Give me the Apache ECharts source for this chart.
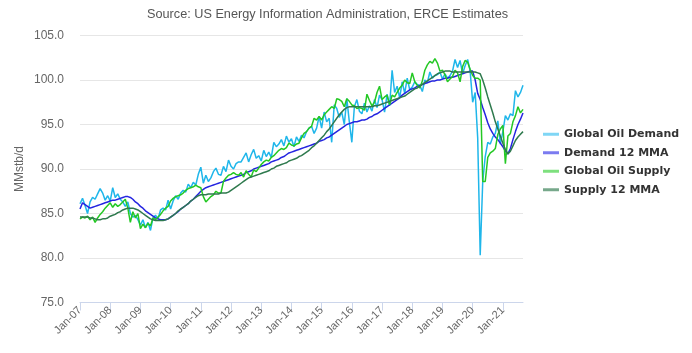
<!DOCTYPE html>
<html>
<head>
<meta charset="utf-8">
<script src="https://cdn.jsdelivr.net/npm/echarts@6/dist/echarts.min.js"></script>
<style>
    html, body { margin: 0; padding: 0; background: #fff; }
    #oilChart { width: 692px; height: 353px; }
</style>
</head>
<body>
<div id="oilChart"></div>
<script>
    // month labels, Jan-07 .. Sep-21
    var monthNames = ['Jan', 'Feb', 'Mar', 'Apr', 'May', 'Jun', 'Jul', 'Aug', 'Sep', 'Oct', 'Nov', 'Dec'];
    var yearLabels = ['07', '08', '09', '10', '11', '12', '13', '14', '15', '16', '17', '18', '19', '20', '21'];
    var lastMonthCount = 9; // data runs to Sep-21

    var yTicks = [75, 80, 85, 90, 95, 100, 105];

    // Global Oil Demand, MMstb/d, one row per year
    var demand = [
        86.1, 86.7, 85.9, 85.0, 86.3, 86.8, 86.6, 87.2, 87.8, 87.3, 86.5, 87.0,
        86.4, 87.9, 86.8, 87.2, 86.6, 86.3, 85.8, 86.3, 85.0, 84.6, 84.8, 84.3,
        83.7, 84.3, 83.4, 84.0, 83.1, 84.5, 84.8, 84.4, 85.4, 85.6, 85.4, 86.5,
        85.5, 86.4, 87.0, 86.6, 87.3, 87.6, 87.4, 88.3, 87.9, 88.5, 88.2, 89.4,
        90.2, 88.4, 89.3, 88.6, 89.0, 89.7, 90.1, 89.4, 89.3, 90.3, 89.7, 91.0,
        90.3, 90.0, 90.6, 90.8, 90.8, 91.3, 91.8, 90.8, 91.6, 92.2, 91.2, 91.5,
        90.9, 92.1, 91.4, 91.9, 91.3, 93.0, 92.5, 92.8, 93.3, 92.6, 93.7, 93.0,
        93.4, 92.5, 93.6, 93.1, 93.8, 93.5, 94.2, 94.6, 94.8, 94.0, 94.6, 95.9,
        94.6, 96.4, 95.3, 95.7, 93.0, 97.2, 96.8, 95.8, 96.4, 95.0, 97.9, 95.3,
        93.0, 97.0, 97.8, 96.5, 96.2, 97.4, 96.4, 97.1, 96.5, 97.8, 96.9, 98.3,
        97.8, 96.4, 98.4, 97.1, 101.1, 98.6, 99.3, 98.0, 99.8, 98.5, 100.2, 98.9,
        99.2, 99.8, 99.5, 99.4, 98.7, 100.0, 99.7, 100.9, 100.2, 100.5, 100.6, 100.9,
        100.1, 100.7, 100.2, 100.5, 101.0, 102.3, 101.4, 102.2, 100.7, 101.6, 102.3, 101.0,
        97.5, 98.6, 93.5, 80.3, 88.6, 91.4, 93.0, 92.8, 93.6, 94.0, 95.4, 92.8,
        94.2, 96.0, 95.5, 96.2, 96.0, 98.8, 98.1, 98.6, 99.4
    ];

    // Demand 12 MMA
    var demandMma = [
        85.5, 86.2, 86.0, 85.8, 85.6, 85.7, 85.8, 85.9, 86.0, 86.1, 86.2, 86.3,
        86.4, 86.5, 86.5, 86.6, 86.7, 86.8, 86.9, 86.9, 86.8, 86.6, 86.3, 86.1,
        85.8, 85.6, 85.3, 85.1, 84.9, 84.7, 84.5, 84.4, 84.3, 84.3, 84.3, 84.4,
        84.6, 84.8, 85.0, 85.2, 85.5, 85.7, 85.9, 86.1, 86.4, 86.6, 86.9, 87.2,
        87.5, 87.7, 87.9, 88.0, 88.1, 88.2, 88.3, 88.4, 88.5, 88.6, 88.7, 88.8,
        88.9, 89.0, 89.1, 89.2, 89.3, 89.4, 89.6, 89.7, 89.8, 90.0, 90.1, 90.2,
        90.3, 90.4, 90.5, 90.6, 90.8, 90.9, 91.0, 91.1, 91.3, 91.4, 91.6, 91.8,
        91.9, 92.0, 92.1, 92.2, 92.3, 92.4, 92.5, 92.6, 92.7, 92.8, 92.9, 93.1,
        93.2, 93.3, 93.5, 93.6, 93.8, 94.0, 94.2, 94.4, 94.6, 94.8, 95.0, 95.1,
        95.2, 95.3, 95.3, 95.4, 95.5, 95.5, 95.6, 95.8, 95.9, 96.1, 96.2, 96.4,
        96.6, 96.8, 97.0, 97.2, 97.4, 97.6, 97.8, 98.0, 98.3, 98.5, 98.7, 98.9,
        99.0, 99.1, 99.3, 99.4, 99.5, 99.6, 99.7, 99.8, 99.9, 99.9, 100.0, 100.0,
        100.1, 100.2, 100.2, 100.3, 100.3, 100.4, 100.5, 100.6, 100.7, 100.8, 100.9, 101.0,
        101.0, 100.0, 98.5, 97.8, 96.9, 96.1, 95.2, 94.5, 94.0, 93.6, 93.3, 92.9,
        92.5, 92.0, 91.7, 92.3, 93.3, 94.2, 95.0, 95.6, 96.3
    ];

    // Global Oil Supply
    var supply = [
        84.4, 84.6, 84.5, 84.7, 84.3, 84.6, 84.0, 84.5, 84.9, 85.2, 85.6, 85.9,
        86.2, 85.7, 86.1, 85.8, 86.0, 86.3, 86.6, 85.6, 84.0, 85.2, 84.5, 85.0,
        83.3, 83.8, 83.4, 83.9, 83.6, 84.5, 84.3, 84.6, 84.9, 85.3, 85.6, 85.8,
        86.4, 86.7, 86.9, 87.0, 87.1, 87.3, 87.6, 87.8, 87.9, 88.0, 88.2, 88.0,
        87.9, 86.9, 86.3, 86.6, 86.9, 87.1, 87.5, 87.3, 87.3, 88.6, 89.0, 89.3,
        89.4, 89.6, 89.4, 89.3, 89.6, 89.1, 89.8, 89.4, 89.1, 89.9, 89.7, 90.1,
        90.5, 90.8, 91.0, 90.9, 91.3, 91.5, 91.8, 92.1, 92.3, 92.2, 92.4, 92.9,
        92.7, 92.6, 92.8, 92.9, 93.5, 94.0, 94.2, 94.6, 94.8, 95.7, 95.5, 95.9,
        95.5, 96.1, 96.4, 96.7, 97.0, 96.8, 97.9, 97.8, 97.6, 97.0, 97.9, 97.6,
        97.2, 97.1, 96.8, 96.9, 96.8, 96.6, 98.4, 97.7, 97.1, 97.5, 98.6, 99.3,
        97.8, 98.1, 98.3, 97.2, 98.3, 98.1, 98.6, 99.1, 99.4, 100.0, 99.7, 99.6,
        100.8, 99.8, 99.4, 99.1, 99.9, 101.1, 101.7, 102.1, 101.9, 102.4, 101.9, 101.0,
        101.1, 100.6, 99.8, 100.1, 100.4, 101.1, 100.8, 99.8, 101.5, 102.2, 102.0, 101.2,
        100.5, 100.2, 100.2, 100.0, 88.6, 88.6, 91.3, 91.8, 92.0, 92.3, 93.9, 94.5,
        94.9, 90.6, 93.7, 94.0, 95.3, 96.0, 97.0, 96.3, 96.7
    ];

    // Supply 12 MMA
    var supplyMma = [
        84.6, 84.6, 84.6, 84.6, 84.5, 84.5, 84.4, 84.3, 84.3, 84.4, 84.4, 84.5,
        84.7, 84.8, 84.9, 85.1, 85.2, 85.4, 85.5, 85.6, 85.6, 85.6, 85.5, 85.4,
        85.2, 85.0, 84.8, 84.6, 84.4, 84.3, 84.2, 84.2, 84.2, 84.2, 84.3, 84.4,
        84.6, 84.8, 85.0, 85.3, 85.5, 85.7, 85.9, 86.1, 86.4, 86.6, 86.8, 87.0,
        87.1, 87.1, 87.1, 87.2, 87.2, 87.2, 87.2, 87.2, 87.3, 87.3, 87.3, 87.4,
        87.6, 87.8, 88.0, 88.2, 88.4, 88.6, 88.8, 89.0, 89.1, 89.2, 89.3, 89.4,
        89.5, 89.6, 89.7, 89.8, 90.0, 90.1, 90.3, 90.4, 90.5, 90.6, 90.7, 90.9,
        91.0, 91.1, 91.2, 91.4, 91.5, 91.7, 91.9, 92.1, 92.4, 92.6, 92.9, 93.2,
        93.5, 93.8, 94.2, 94.5, 94.9, 95.3, 95.7, 96.1, 96.4, 96.7, 96.9, 97.0,
        97.0, 97.0, 97.0, 97.0, 97.0, 97.0, 97.0, 97.0, 97.0, 97.1, 97.1, 97.2,
        97.3, 97.4, 97.5, 97.6, 97.7, 97.8, 97.9, 98.0, 98.1, 98.2, 98.4, 98.6,
        98.8, 99.0, 99.1, 99.3, 99.5, 99.7, 99.9, 100.1, 100.3, 100.5, 100.7, 100.8,
        100.9, 101.0, 101.0, 101.0, 100.9, 100.9, 100.9, 100.9, 100.9, 100.9, 100.9, 100.9,
        100.9, 100.9, 100.8, 100.7, 100.0, 99.1, 98.1, 97.2, 96.3, 95.3, 94.5, 93.7,
        92.9, 92.2, 91.7, 92.0, 92.6, 93.2, 93.6, 93.9, 94.2
    ];

    var seriesNames = ['Global Oil Demand', 'Demand 12 MMA', 'Global Oil Supply', 'Supply 12 MMA'];
    var lineColors = ['#1fb6ea', '#2424e0', '#24c824', '#2f7a4e'];
    var legendColors = ['#7fd6f5', '#7b7bf0', '#7ee07e', '#77a88b'];

    var categories = [];
    yearLabels.forEach(function (yy, i) {
        var n = i === yearLabels.length - 1 ? lastMonthCount : 12;
        for (var m = 0; m < n; m++) {
            categories.push(monthNames[m] + '-' + yy);
        }
    });

    var seriesData = [demand, demandMma, supply, supplyMma];

    var chart = echarts.init(document.getElementById('oilChart'));
    chart.setOption({
        animation: false,
        textStyle: { fontFamily: 'Liberation Sans' },
        title: {
            text: 'Source: US Energy Information Administration, ERCE Estimates',
            left: 147,
            top: 8,
            padding: 0,
            textStyle: {
                fontSize: 12.7,
                fontWeight: 'normal',
                color: '#555',
                fontFamily: 'Liberation Sans'
            }
        },
        legend: {
            orient: 'vertical',
            left: 543,
            top: 128,
            padding: 0,
            itemGap: 6,
            itemWidth: 16,
            itemHeight: 3,
            icon: 'rect',
            textStyle: {
                fontSize: 11,
                fontWeight: 'bold',
                color: '#333',
                fontFamily: 'DejaVu Sans',
                lineHeight: 12.5
            },
            data: seriesNames.map(function (n, i) {
                return { name: n, itemStyle: { color: legendColors[i] } };
            })
        },
        grid: {
            left: 80,
            right: 169,
            top: 35.5,
            bottom: 50.5,
            containLabel: false
        },
        xAxis: {
            type: 'category',
            data: categories,
            boundaryGap: false,
            axisLine: { lineStyle: { color: '#ccd6eb' } },
            axisTick: {
                show: true,
                interval: 11,
                length: 8,
                lineStyle: { color: '#ccd6eb' }
            },
            axisLabel: {
                interval: 11,
                rotate: 45,
                fontSize: 11,
                color: '#666',
                margin: 6
            },
            splitLine: { show: false }
        },
        yAxis: {
            type: 'value',
            min: yTicks[0],
            max: yTicks[yTicks.length - 1],
            interval: 5,
            name: 'MMstb/d',
            nameLocation: 'middle',
            nameRotate: 90,
            nameGap: 54,
            nameMoveOverlap: false,
            nameTextStyle: { fontSize: 12, color: '#666' },
            axisLine: { show: false },
            axisTick: { show: false },
            axisLabel: {
                fontSize: 12,
                color: '#666',
                margin: 16,
                formatter: function (v) { return v.toFixed(1); }
            },
            splitLine: { lineStyle: { color: '#e6e6e6', width: 1 } }
        },
        series: seriesNames.map(function (n, i) {
            return {
                name: n,
                type: 'line',
                data: seriesData[i],
                showSymbol: false,
                symbol: 'none',
                lineStyle: { width: 1.5, color: lineColors[i] },
                itemStyle: { color: lineColors[i] }
            };
        })
    });
</script>
</body>
</html>
